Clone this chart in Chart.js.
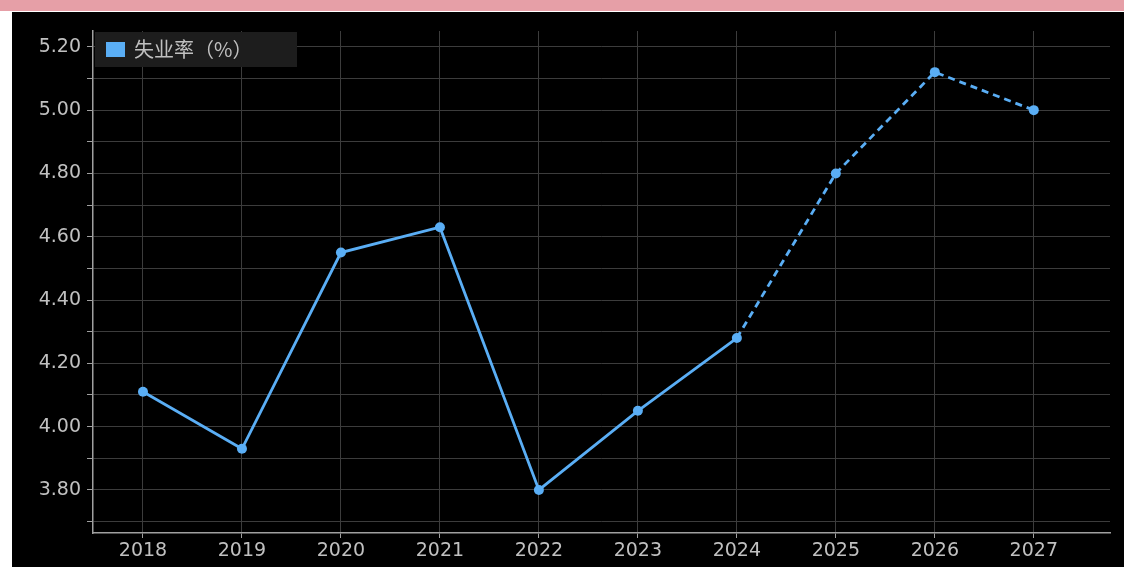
<!DOCTYPE html>
<html>
<head>
<meta charset="utf-8">
<script src="https://cdn.jsdelivr.net/npm/chart.js@4.4.0/dist/chart.umd.min.js"></script>
<style>
  html, body { margin: 0; padding: 0; background: #ffffff; width: 1124px; height: 567px; overflow: hidden; }
  #band { position: absolute; left: 0; top: 0; width: 1124px; height: 11px; background: #e69fa7; }
  #panel { position: absolute; left: 12px; top: 12px; width: 1112px; height: 555px; background: #000000; }
  canvas { display: block; }
</style>
</head>
<body>
<div id="band"></div>
<div id="panel"><canvas id="c" width="1112" height="555"></canvas></div>
<script>
const years = [2018, 2019, 2020, 2021, 2022, 2023, 2024, 2025, 2026, 2027];
const unemployment = [4.11, 3.93, 4.55, 4.63, 3.80, 4.05, 4.28, 4.80, 5.12, 5.00];
const lastActualIndex = 6; // 2024; later values are forecasts (dashed)
const yTickValues = [3.7, 3.8, 3.9, 4.0, 4.1, 4.2, 4.3, 4.4, 4.5, 4.6, 4.7, 4.8, 4.9, 5.0, 5.1, 5.2];
const seriesLabel = '失业率（%）';

const lineColor = '#5aaef5';
const gridColor = '#3c3c3c';
const axisColor = '#a0a0a0';
const textColor = '#c0c0c0';

const legendPlugin = {
  id: 'boxLegend',
  afterDraw(chart) {
    const ctx = chart.ctx;
    const ds = chart.data.datasets[0];
    const x0 = chart.chartArea.left + 2, y0 = chart.chartArea.top + 1;
    ctx.save();
    ctx.fillStyle = '#1d1d1d';
    ctx.fillRect(x0, y0, 202, 35);
    ctx.fillStyle = ds.borderColor;
    ctx.fillRect(x0 + 11, y0 + 10, 19, 15);
    ctx.fillStyle = textColor;
    ctx.font = '20px "Noto Sans CJK SC", "Noto Sans", sans-serif';
    ctx.textBaseline = 'middle';
    ctx.textAlign = 'left';
    ctx.fillText(ds.label, x0 + 39, y0 + 17);
    ctx.restore();
  }
};

new Chart(document.getElementById('c'), {
  type: 'line',
  data: {
    datasets: [{
      label: seriesLabel,
      data: years.map((y, i) => ({ x: y, y: unemployment[i] })),
      borderColor: lineColor,
      backgroundColor: lineColor,
      borderWidth: 2.8,
      pointRadius: 5,
      pointHoverRadius: 5,
      pointBackgroundColor: lineColor,
      pointBorderWidth: 0,
      tension: 0,
      segment: {
        borderDash: ctx => ctx.p0DataIndex >= lastActualIndex ? [7, 5] : undefined
      }
    }]
  },
  options: {
    responsive: false,
    animation: false,
    layout: { padding: { top: 19, right: 14, left: 0, bottom: 0 } },
    plugins: { legend: { display: false }, tooltip: { enabled: false } },
    scales: {
      x: {
        type: 'linear',
        min: 2017.495,
        max: 2027.77,
        afterBuildTicks: axis => { axis.ticks = years.map(v => ({ value: v })); },
        afterFit: axis => { axis.height = 34; },
        ticks: {
          color: textColor,
          font: { size: 19, family: '"DejaVu Sans", sans-serif' },
          padding: 2,
          maxRotation: 0,
          callback: v => String(v)
        },
        grid: { color: gridColor, lineWidth: 1, tickLength: 5, tickColor: axisColor, drawTicks: true },
        border: { display: true, color: axisColor, width: 1.5 }
      },
      y: {
        type: 'linear',
        min: 3.664,
        max: 5.25,
        afterBuildTicks: axis => { axis.ticks = yTickValues.map(v => ({ value: v })); },
        afterFit: axis => { axis.width = 81; },
        ticks: {
          color: textColor,
          font: { size: 19, family: '"DejaVu Sans", sans-serif' },
          padding: 6,
          callback: v => (Math.round(v * 10) % 2 === 0 ? v.toFixed(2) : '')
        },
        grid: { color: gridColor, lineWidth: 1, tickLength: 6, tickColor: axisColor, drawTicks: true },
        border: { display: true, color: axisColor, width: 1.5 }
      }
    }
  },
  plugins: [legendPlugin]
});
</script>
</body>
</html>
